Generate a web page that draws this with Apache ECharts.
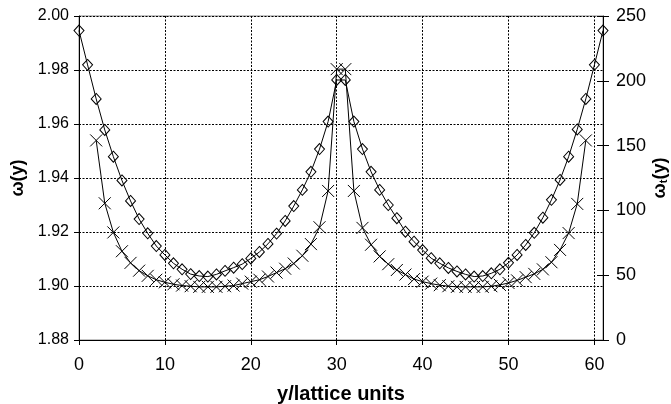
<!DOCTYPE html>
<html>
<head>
<meta charset="utf-8">
<script src="https://cdn.jsdelivr.net/npm/echarts@6/dist/echarts.min.js"></script>
<style>
  html, body { margin: 0; padding: 0; background: #fff; }
  #chart { width: 671px; height: 404px; }
</style>
</head>
<body>
<div id="chart"></div>
<script>
// positions across the channel (lattice units)
const yPos = [0, 1, 2, 3, 4, 5, 6, 7, 8, 9, 10, 11, 12, 13, 14, 15, 16, 17, 18, 19, 20,
  21, 22, 23, 24, 25, 26, 27, 28, 29, 30, 31, 32, 33, 34, 35, 36, 37, 38, 39, 40,
  41, 42, 43, 44, 45, 46, 47, 48, 49, 50, 51, 52, 53, 54, 55, 56, 57, 58, 59, 60, 61]

// ω(y), left axis (diamonds)
const omega = [1.9946, 1.9819, 1.9693, 1.9578, 1.9479, 1.9391, 1.9315, 1.9248, 1.9195, 1.9148,
  1.9115, 1.9084, 1.9062, 1.9044, 1.9037, 1.9035, 1.9043, 1.9056, 1.9068, 1.9081,
  1.9102, 1.9126, 1.9156, 1.9194, 1.9241, 1.9296, 1.9356, 1.9423, 1.9507, 1.9609,
  1.9763, 1.9763, 1.9609, 1.9507, 1.9423, 1.9356, 1.9300, 1.9251, 1.9201, 1.9164,
  1.9133, 1.9103, 1.9084, 1.9067, 1.9054, 1.9043, 1.9035, 1.9037, 1.9047, 1.9062,
  1.9086, 1.9115, 1.9152, 1.9197, 1.9253, 1.9319, 1.9393, 1.9479, 1.9580, 1.9693,
  1.9819, 1.9946]

// ωt(y), right axis (crosses), only y = 2 .. 59
const yPosT = [2, 3, 4, 5, 6, 7, 8, 9, 10, 11, 12, 13, 14, 15, 16, 17, 18, 19, 20,
  21, 22, 23, 24, 25, 26, 27, 28, 29, 30, 31, 32, 33, 34, 35, 36, 37, 38, 39, 40,
  41, 42, 43, 44, 45, 46, 47, 48, 49, 50, 51, 52, 53, 54, 55, 56, 57, 58, 59]
const omegaT = [154, 105.5, 83, 68.5, 59.5, 53.5, 49.5, 46.5, 44.5, 43,
  42, 41.5, 41, 41, 41, 41.5, 42, 43.5, 45, 46.5,
  49, 52, 55, 59, 65, 74, 87, 115, 209, 209,
  115, 86.5, 73.5, 64.5, 58.5, 54, 50.5, 47, 45, 43.5,
  42.3, 41.5, 41, 41, 41, 41, 41.5, 42.5, 44, 46,
  48.5, 51, 54.5, 60, 69.5, 82.5, 105, 154]

const xTicks = [0, 10, 20, 30, 40, 50, 60]

const FONT = 'Liberation Sans, Arial, Helvetica, sans-serif'
const DIAMOND = 'path://M5,0L10,5L5,10L0,5Z'
const CROSS = 'path://M0,0L10,10M10,0L0,10'
const dotted = { color: '#000', width: 1, type: [2, 1.5] }

const chart = echarts.init(document.getElementById('chart'), null, { renderer: 'canvas' })

chart.setOption({
  backgroundColor: '#fff',
  animation: false,
  textStyle: { fontFamily: FONT },
  grid: {
    left: 79, right: 68, top: 16, bottom: 64,
    outerBoundsMode: 'none', containLabel: false,
    show: true, borderColor: '#888', borderWidth: 1,
  },
  xAxis: {
    type: 'value',
    min: 0, max: 61, interval: 10,
    name: 'y/lattice units',
    nameLocation: 'middle',
    nameGap: 44,
    nameTextStyle: { color: '#000', fontSize: 20, fontWeight: 'bold', fontFamily: FONT },
    axisLine: { lineStyle: { color: '#000', width: 1 } },
    axisTick: { length: 5, lineStyle: { color: '#000' } },
    axisLabel: {
      color: '#000', fontSize: 18, margin: 16, showMaxLabel: false,
      formatter: v => (xTicks.includes(v) ? String(v) : ''),
    },
    splitLine: { show: true, lineStyle: dotted },
  },
  yAxis: [
    {
      type: 'value',
      min: 1.88, max: 2.00, interval: 0.02,
      position: 'left',
      name: 'ω(y)',
      nameLocation: 'middle',
      nameRotate: 90,
      nameGap: 47,
      nameTextStyle: { color: '#000', fontSize: 18, fontWeight: 'bold', fontFamily: FONT },
      axisLine: { show: true, lineStyle: { color: '#000', width: 1 } },
      axisTick: { show: true, length: 5, lineStyle: { color: '#000' } },
      axisLabel: { color: '#000', fontSize: 16, margin: 10, formatter: v => v.toFixed(2) },
      splitLine: { show: true, lineStyle: dotted },
    },
    {
      type: 'value',
      min: 0, max: 250, interval: 50,
      position: 'right',
      name: '{a|ω}{b|t}{a|(y)}',
      nameLocation: 'middle',
      nameRotate: 90,
      nameGap: 48,
      nameMoveOverlap: false,
      nameTextStyle: {
        color: '#000', fontFamily: FONT,
        rich: {
          a: { fontSize: 18, fontWeight: 'bold', fontFamily: FONT, color: '#000' },
          b: { fontSize: 11, fontWeight: 'bold', fontFamily: FONT, color: '#000', verticalAlign: 'bottom', padding: [6, 0, 0, 0] },
        },
      },
      axisLine: { show: true, lineStyle: { color: '#000', width: 1 } },
      axisTick: { show: true, length: 6, lineStyle: { color: '#000' } },
      axisLabel: { color: '#000', fontSize: 18, margin: 13 },
      splitLine: { show: false },
    },
    {
      // inner half of the crossing ticks on the right axis
      type: 'value',
      min: 0, max: 250, interval: 50,
      position: 'right',
      axisLine: { show: false },
      axisTick: { show: true, inside: true, length: 6, lineStyle: { color: '#000' } },
      axisLabel: { show: false },
      splitLine: { show: false },
    },
  ],
  series: [
    {
      name: 'omega',
      type: 'line',
      yAxisIndex: 0,
      data: yPos.map((y, i) => [y, omega[i]]),
      symbol: DIAMOND,
      symbolSize: [10, 11],
      lineStyle: { color: '#000', width: 1 },
      itemStyle: { color: 'rgba(0,0,0,0)', borderColor: '#000', borderWidth: 1 },
      z: 3,
    },
    {
      name: 'omegaT',
      type: 'line',
      yAxisIndex: 1,
      data: yPosT.map((y, i) => [y, omegaT[i]]),
      symbol: CROSS,
      symbolSize: 12,
      lineStyle: { color: '#000', width: 1 },
      itemStyle: { color: 'rgba(0,0,0,0)', borderColor: '#000', borderWidth: 1 },
      z: 3,
    },
  ],
})
</script>
</body>
</html>
